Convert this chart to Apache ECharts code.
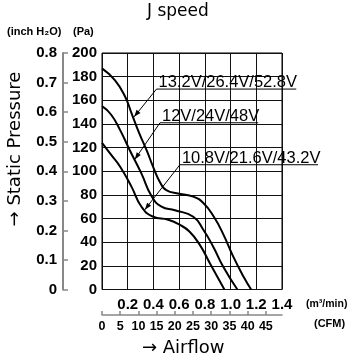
<!DOCTYPE html>
<html>
<head>
<meta charset="utf-8">
<script src="https://cdn.jsdelivr.net/npm/echarts@6/dist/echarts.min.js"></script>
</head>
<body style="margin:0">
<div id="container" style="width:351px;height:357px"></div>
<script>
// P-Q curves, airflow in m3/min, static pressure in Pa
var flowHi = [0, 0.10, 0.18, 0.23, 0.29, 0.35, 0.40, 0.45, 0.50, 0.60, 0.71, 0.79, 0.87, 0.94, 1.02, 1.10, 1.16];
var presHi = [187, 177, 163, 149, 132, 117, 103, 91, 84, 81, 78.5, 73, 61.5, 47.5, 28, 11, 0];
var flowMid = [0, 0.07, 0.14, 0.215, 0.307, 0.385, 0.463, 0.567, 0.71, 0.788, 0.866, 0.944, 1.053];
var presMid = [155, 148, 135, 118, 98, 79, 70, 67, 61.5, 50.5, 36, 19, 0];
var flowLo = [0, 0.07, 0.14, 0.229, 0.307, 0.398, 0.515, 0.60, 0.68, 0.762, 0.84, 0.952];
var presLo = [124, 114, 104, 87, 70, 61.5, 59, 55, 49, 37.5, 22, 0];

var seriesNames = ['13.2V/26.4V/52.8V', '12V/24V/48V', '10.8V/21.6V/43.2V'];
var cfmTicks = [0, 5, 10, 15, 20, 25, 30, 35, 40, 45];

// leader annotations: [label, underline start (Q,P), underline end Q, arrow tip (Q,P)]
var notes = [
  [seriesNames[0], [0.424, 169.5], 1.511, [0.25, 146]],
  [seriesNames[1], [0.451, 141], 1.215, [0.255, 110]],
  [seriesNames[2], [0.606, 105.5], 1.68, [0.333, 67.5]]
];

var plain = "'Liberation Sans', Arial, sans-serif";
var wide = "'DejaVu Sans', sans-serif";

var numLabel = {fontSize: 15, fontFamily: plain, fontWeight: 'bold', color: '#000'};
var cfmLabel = {fontSize: 12.5, fontFamily: plain, fontWeight: 'bold', color: '#000'};

function pairs(xs, ys) {
  return xs.map(function (x, i) { return [x, ys[i]]; });
}

var dom = document.getElementById('container');
var myChart = echarts.init(dom);

var option = {
  animation: false,
  grid: {left: 102, right: 69, top: 53, bottom: 67.5, show: true, borderColor: '#000', borderWidth: 1},
  xAxis: [{
    type: 'value', min: 0, max: 1.4, interval: 0.2, position: 'bottom',
    axisLine: {show: false}, axisTick: {show: false},
    axisLabel: Object.assign({margin: 8,
      formatter: function (v) { return v === 0 ? '' : v.toFixed(1); }}, numLabel),
    splitLine: {lineStyle: {color: '#111', width: 1}}
  }, {
    type: 'value', min: 0, max: 1.4 * 35.315, position: 'bottom', offset: 25.5,
    axisLine: {show: true, onZero: false, lineStyle: {color: '#888', width: 1.5}},
    axisTick: {inside: true, length: 4, customValues: cfmTicks, lineStyle: {color: '#888', width: 1.5}},
    axisLabel: Object.assign({customValues: cfmTicks, margin: 5}, cfmLabel),
    splitLine: {show: false}
  }],
  yAxis: [{
    type: 'value', min: 0, max: 200, interval: 20, position: 'left',
    axisLine: {show: false}, axisTick: {show: false},
    axisLabel: Object.assign({margin: 5}, numLabel),
    splitLine: {lineStyle: {color: '#111', width: 1}}
  }, {
    type: 'value', min: 0, max: 0.8, interval: 0.1, position: 'left', offset: 39,
    axisLine: {show: true, onZero: false, lineStyle: {color: '#888', width: 2}},
    axisTick: {inside: true, length: 5, lineStyle: {color: '#888', width: 1.5}},
    axisLabel: Object.assign({margin: 6,
      formatter: function (v) { return v === 0 ? '0' : v.toFixed(1); }}, numLabel),
    splitLine: {show: false}
  }],
  series: [
    {name: seriesNames[0], data: pairs(flowHi, presHi)},
    {name: seriesNames[1], data: pairs(flowMid, presMid)},
    {name: seriesNames[2], data: pairs(flowLo, presLo)}
  ].map(function (s) {
    return {
      name: s.name, type: 'line', data: s.data, xAxisIndex: 0, yAxisIndex: 0,
      smooth: 0.5, showSymbol: false, clip: true,
      lineStyle: {color: '#000', width: 2}
    };
  })
};

myChart.setOption(option);

// text and leader lines, placed from data coordinates
var g = [];
g.push({type: 'text', left: 147, top: 3, style: {text: 'J speed', font: '17px ' + wide, fill: '#000'}});
g.push({type: 'text', left: 7, top: 26, style: {text: '(inch H\u2082O)', font: 'bold 11px ' + plain, fill: '#000'}});
g.push({type: 'text', left: 73, top: 26, style: {text: '(Pa)', font: 'bold 11px ' + plain, fill: '#000'}});
g.push({type: 'text', left: 306, top: 299, style: {text: '(m\u00b3/min)', font: 'bold 10.5px ' + plain, fill: '#000'}});
g.push({type: 'text', left: 314, top: 318, style: {text: '(CFM)', font: 'bold 11px ' + plain, fill: '#000'}});
g.push({type: 'text', left: 142, top: 339, style: {text: '\u2192 Airflow', font: '18px ' + wide, fill: '#000'}});
g.push({type: 'text', x: 15, y: 149, rotation: Math.PI / 2,
  style: {text: '\u2192 Static Pressure', font: '18px ' + wide, fill: '#000', align: 'center', verticalAlign: 'middle'}});

notes.forEach(function (n) {
  var a = myChart.convertToPixel({gridIndex: 0}, n[1]);
  var b = myChart.convertToPixel({gridIndex: 0}, [n[2], n[1][1]]);
  var t = myChart.convertToPixel({gridIndex: 0}, n[3]);
  g.push({type: 'line', shape: {x1: a[0], y1: a[1], x2: b[0], y2: b[1]}, style: {stroke: '#000', lineWidth: 1}});
  g.push({type: 'line', shape: {x1: a[0], y1: a[1], x2: t[0], y2: t[1]}, style: {stroke: '#000', lineWidth: 1}});
  var dx = t[0] - a[0], dy = t[1] - a[1], len = Math.sqrt(dx * dx + dy * dy);
  var ux = dx / len, uy = dy / len, L = 7, W = 2.5;
  g.push({type: 'polygon', shape: {points: [
    [t[0], t[1]],
    [t[0] - ux * L - uy * W, t[1] - uy * L + ux * W],
    [t[0] - ux * L + uy * W, t[1] - uy * L - ux * W]
  ]}, style: {fill: '#000'}});
  g.push({type: 'text', x: a[0] + 2, y: a[1] + 2,
    style: {text: n[0], font: '16.5px ' + plain, fill: '#000', verticalAlign: 'bottom'}});
});

myChart.setOption({graphic: g});
</script>
</body>
</html>
